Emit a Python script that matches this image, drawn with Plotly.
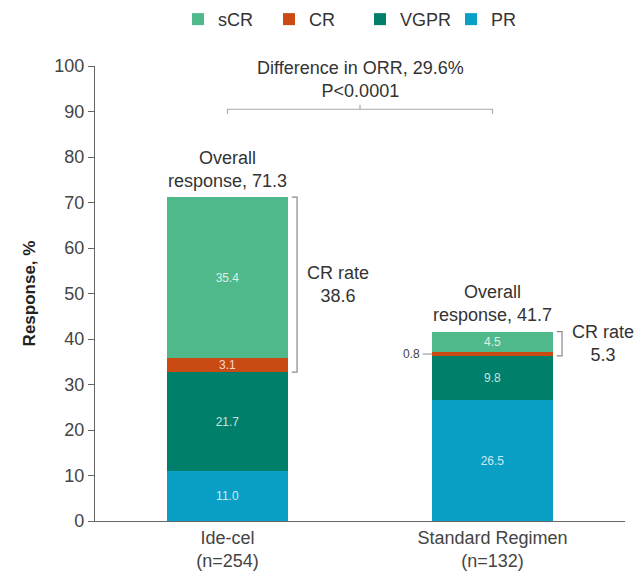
import plotly.graph_objects as go

# Response categories, bottom of the stack first
groups = ["Ide-cel<br>(n=254)", "Standard Regimen<br>(n=132)"]
pr = [11.0, 26.5]
vgpr = [21.7, 9.8]
cr = [3.1, 0.8]
scr = [35.4, 4.5]
overall = [71.3, 41.7]
cr_rate = [38.6, 5.3]
orr_diff = 29.6

COLORS = {
    "sCR": "#50B98C",
    "CR": "#C94A12",
    "VGPR": "#00806A",
    "PR": "#0AA0C6",
}
FONT = "Liberation Sans, Arial, sans-serif"
GREY = "#8a8a8a"
BAR_W = 0.457

fig = go.Figure()

series = [("PR", pr), ("VGPR", vgpr), ("CR", cr), ("sCR", scr)]
for name, vals in series:
    # 0.8 CR slice is too thin, labelled outside instead
    labels = [f"{v:.1f}" if v >= 2 else "" for v in vals]
    fig.add_trace(
        go.Bar(
            x=groups,
            y=vals,
            name=name,
            width=BAR_W,
            marker=dict(color=COLORS[name], line=dict(width=0)),
            text=labels,
            textposition="inside",
            insidetextanchor="middle",
            textangle=0,
            constraintext="none",
            textfont=dict(size=12, color="rgba(255,255,255,0.8)", family=FONT),
            hoverinfo="skip",
        )
    )

ann = []
shapes = []

# overall response labels above each bar
for i, v in enumerate(overall):
    ann.append(dict(
        x=i, y=v, xref="x", yref="y", yshift=4,
        text=f"Overall<br>response, {v}", showarrow=False,
        yanchor="bottom", font=dict(size=18, color="#333"),
    ))

# CR rate brackets
for i in range(2):
    base = pr[i] + vgpr[i]
    top = base + cr[i] + scr[i]
    bx = i + BAR_W / 2 + 0.034
    shapes.append(dict(
        type="path", xref="x", yref="y",
        path=f"M {bx - 0.02},{top} L {bx},{top} L {bx},{base} L {bx - 0.02},{base}",
        line=dict(color=GREY, width=1.2),
    ))
    ann.append(dict(
        x=bx, y=(top + base) / 2, xref="x", yref="y", xshift=8,
        text=f"CR rate<br>{cr_rate[i]}", showarrow=False, xanchor="left",
        font=dict(size=18, color="#333"),
    ))

# 0.8 callout on standard regimen CR slice
cr_mid = pr[1] + vgpr[1] + cr[1] / 2
shapes.append(dict(
    type="line", xref="x", yref="y",
    x0=1 - BAR_W / 2 - 0.035, x1=1 - BAR_W / 2, y0=cr_mid, y1=cr_mid,
    line=dict(color=GREY, width=1),
))
ann.append(dict(
    x=1 - BAR_W / 2 - 0.035, y=cr_mid, xref="x", yref="y", xshift=-1,
    text=f"{cr[1]}", showarrow=False, xanchor="right",
    font=dict(size=12, color="#444"),
))

# difference in ORR bracket
by = 90.5
shapes.append(dict(
    type="path", xref="x", yref="y",
    path=f"M 0,{by - 1} L 0,{by} L 1,{by} L 1,{by - 1}",
    line=dict(color="#aaa", width=1.2),
))
shapes.append(dict(
    type="line", xref="x", yref="y", x0=0.5, x1=0.5, y0=by, y1=by + 1,
    line=dict(color="#aaa", width=1.2),
))
ann.append(dict(
    x=0.5, y=by, xref="x", yref="y", yshift=6,
    text=f"Difference in ORR, {orr_diff}%<br>P<0.0001", showarrow=False,
    yanchor="bottom", font=dict(size=18, color="#333"),
))

fig.update_layout(
    width=641,
    height=572,
    margin=dict(l=95, r=16, t=66, b=51, autoexpand=False),
    barmode="stack",
    bargap=0,
    plot_bgcolor="white",
    paper_bgcolor="white",
    font=dict(family=FONT, size=18, color="#333"),
    legend=dict(
        orientation="h", traceorder="reversed",
        x=0.5, xanchor="center", y=1.143, yanchor="top",
        font=dict(size=18, color="#333"),
        entrywidth=46, entrywidthmode="pixels",
    ),
    annotations=ann,
    shapes=shapes,
    xaxis=dict(
        range=[-0.5, 1.5], automargin=False,
        showline=True, linecolor="#666", linewidth=1.2,
        ticks="", showgrid=False,
        tickfont=dict(size=18, color="#444"),
    ),
    yaxis=dict(
        range=[0, 100], dtick=10, automargin=False,
        showline=True, linecolor="#666", linewidth=1.2,
        ticks="outside", ticklen=6, tickcolor="#666",
        showgrid=False, zeroline=False,
        tickfont=dict(size=18, color="#444"),
        title=dict(text="<b>Response, %</b>", font=dict(size=17, color="#222"), standoff=14),
    ),
)

# page body has a default 8px margin; drop it so the figure sits at 0,0
fig.write_html(
    "out.html",
    config={"displayModeBar": False},
    post_script="document.body.style.margin='0';",
)
